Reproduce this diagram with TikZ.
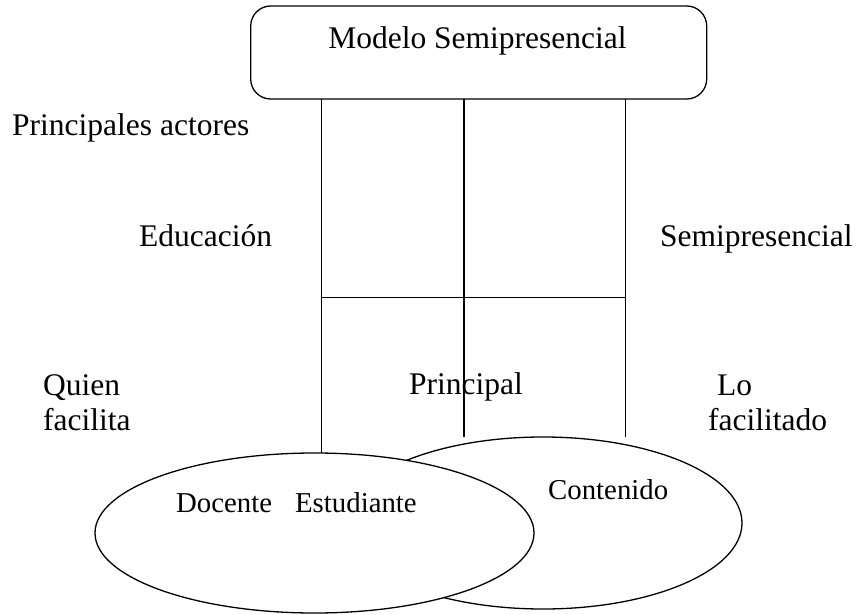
\documentclass[tikz,border=0pt]{standalone}
\usepackage{fontspec}
\setmainfont{Liberation Serif}
\usetikzlibrary{shapes.geometric}
\tikzset{
  lbl/.style={anchor=base west, inner sep=0pt, font=\fontsize{31.5}{35}\selectfont},
  small/.style={anchor=base west, inner sep=0pt, font=\fontsize{28.8}{32}\selectfont},
  line/.style={draw=black, line width=1.3pt},
  topbox/.style={draw=black, line width=1.3pt, rounded corners=20pt, minimum width=456pt, minimum height=93pt, inner sep=0pt, outer sep=0pt},
  ell/.style={ellipse, draw=black, line width=1.3pt, inner sep=0pt, outer sep=0pt, fill=white}
}
\begin{document}
\begin{tikzpicture}[x=1pt,y=-1pt]
\useasboundingbox (0,0) rectangle (857,615);
% top box
\node[topbox] (top) at (478.7,52.5) {};
\node[lbl, anchor=base] (toptext) at (477.5,49) {Modelo Semipresencial};
% coordinates for lines
\coordinate (xl) at (321.7,0);
\coordinate (xm) at (464,0);
\coordinate (xr) at (625.7,0);
\coordinate (mend) at (464,436.7);
\coordinate (rend) at (625.7,436.7);
\coordinate (hy) at (0,297.7);
% ellipses
\node[ell, minimum width=398pt, minimum height=172pt] (e2) at (543,523) {};
\node[ell, minimum width=439pt, minimum height=160pt] (e1) at (314.5,533) {};
% vertical lines
\draw[line] (top.south -| xl) -- (xl |- e1.north);
\draw[line] (top.south -| xm) -- (mend);
\draw[line] (top.south -| xr) -- (rend);
% horizontal line
\draw[line] (hy -| xl) -- (hy -| xr);
% labels
\node[lbl] (pa) at (12,136) {Principales actores};
\node[lbl] (edu) at (139,246.7) {Educación};
\node[lbl] (semi) at (660,246.7) {Semipresencial};
\node[lbl] (quien) at (43,395) {Quien};
\node[lbl] (facilita) at (43,430) {facilita};
\node[lbl] (princ) at (409,394) {Principal};
\node[lbl] (lo) at (717,395) {Lo};
\node[lbl] (facilitado) at (708,430) {facilitado};
\node[small] (doc) at (176,512) {Docente\hspace{23pt}Estudiante};
\node[small] (cont) at (548,499) {Contenido};
\end{tikzpicture}
\end{document}
